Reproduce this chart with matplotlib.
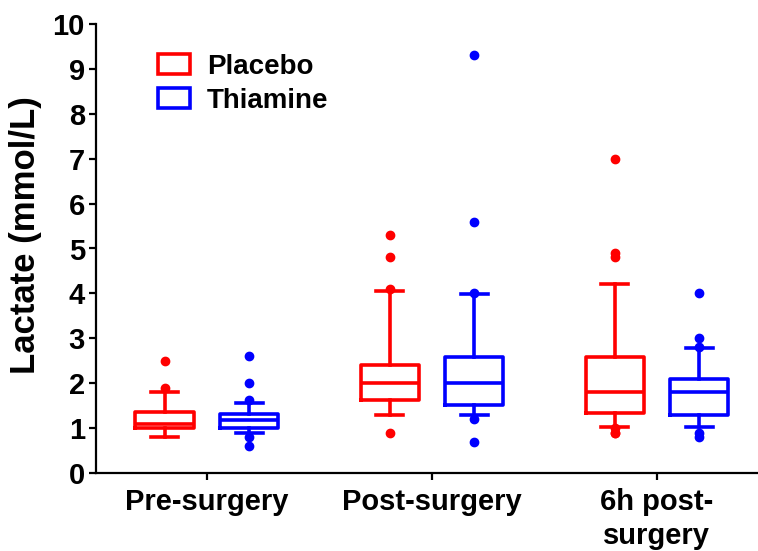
import matplotlib
matplotlib.use("Agg")
import matplotlib.pyplot as plt
from matplotlib.patches import Patch

plt.rcParams['font.family'] = ['Liberation Sans', 'DejaVu Sans']
plt.rcParams['font.weight'] = 'bold'

categories = ["Pre-surgery", "Post-surgery", "6h post-\nsurgery"]
groups = ["Placebo", "Thiamine"]
colors = ["#ff0000", "#0000ff"]

# per category: [placebo, thiamine]
whislo = [[0.8, 0.9], [1.3, 1.3], [1.03, 1.02]]
q1 = [[1.0, 1.0], [1.63, 1.51], [1.33, 1.29]]
med = [[1.1, 1.18], [2.0, 2.0], [1.8, 1.8]]
q3 = [[1.35, 1.31], [2.4, 2.59], [2.58, 2.09]]
whishi = [[1.8, 1.57], [4.06, 3.99], [4.22, 2.78]]
fliers = [
    [[1.9, 2.5], [0.6, 0.8, 1.63, 2.0, 2.6]],
    [[0.9, 4.1, 4.8, 5.3], [0.7, 1.2, 4.0, 5.6, 9.3]],
    [[0.9, 0.9, 1.0, 4.8, 4.9, 7.0], [0.8, 0.9, 2.8, 3.0, 4.0]],
]

fig = plt.figure(figsize=(7.58, 5.51), dpi=100)
ax = fig.add_axes([96/758, 78/551, 1 - 96/758, 449/551])

offset = 0.375
for gi, (g, c) in enumerate(zip(groups, colors)):
    stats = []
    for ci in range(len(categories)):
        stats.append(dict(whislo=whislo[ci][gi], q1=q1[ci][gi], med=med[ci][gi],
                          q3=q3[ci][gi], whishi=whishi[ci][gi], fliers=fliers[ci][gi]))
    pos = [ci + (gi - 0.5) * offset for ci in range(len(categories))]
    ax.bxp(stats, positions=pos, widths=0.26, showfliers=True, patch_artist=False,
           boxprops=dict(color=c, linewidth=2.6, solid_joinstyle='round'),
           medianprops=dict(color=c, linewidth=2.6),
           whiskerprops=dict(color=c, linewidth=2.6),
           capprops=dict(color=c, linewidth=2.6),
           capwidths=0.12,
           flierprops=dict(marker='o', markerfacecolor=c, markeredgecolor=c,
                           markersize=6, linestyle='none'))

ax.set_xlim(-0.493, 0.449 + 2)
ax.set_ylim(0, 10)
ax.set_yticks(range(0, 11))
ax.set_xticks(range(len(categories)))
ax.set_xticklabels(categories, linespacing=1.25)
for s in ['top', 'right']:
    ax.spines[s].set_visible(False)
for s in ['left', 'bottom']:
    ax.spines[s].set_linewidth(1.6)
ax.tick_params(axis='both', width=1.6, length=5, labelsize=21, direction='out')
ax.tick_params(axis='x', pad=6)
ax.tick_params(axis='y', pad=3)
ax.set_ylabel("Lactate (mmol/L)", fontsize=25, fontweight='bold')
ax.yaxis.set_label_coords(-0.082, 0.53)

handles = [Patch(facecolor='white', edgecolor=c, linewidth=2.6, label=g)
           for g, c in zip(groups, colors)]
leg = ax.legend(handles=handles, loc='upper left', bbox_to_anchor=(0.094, 0.934),
                frameon=False, fontsize=20, handlelength=1.15, handleheight=0.75,
                handletextpad=0.6, labelspacing=0.3, borderaxespad=0,
                borderpad=0)

fig.savefig("out.png", dpi=100)
